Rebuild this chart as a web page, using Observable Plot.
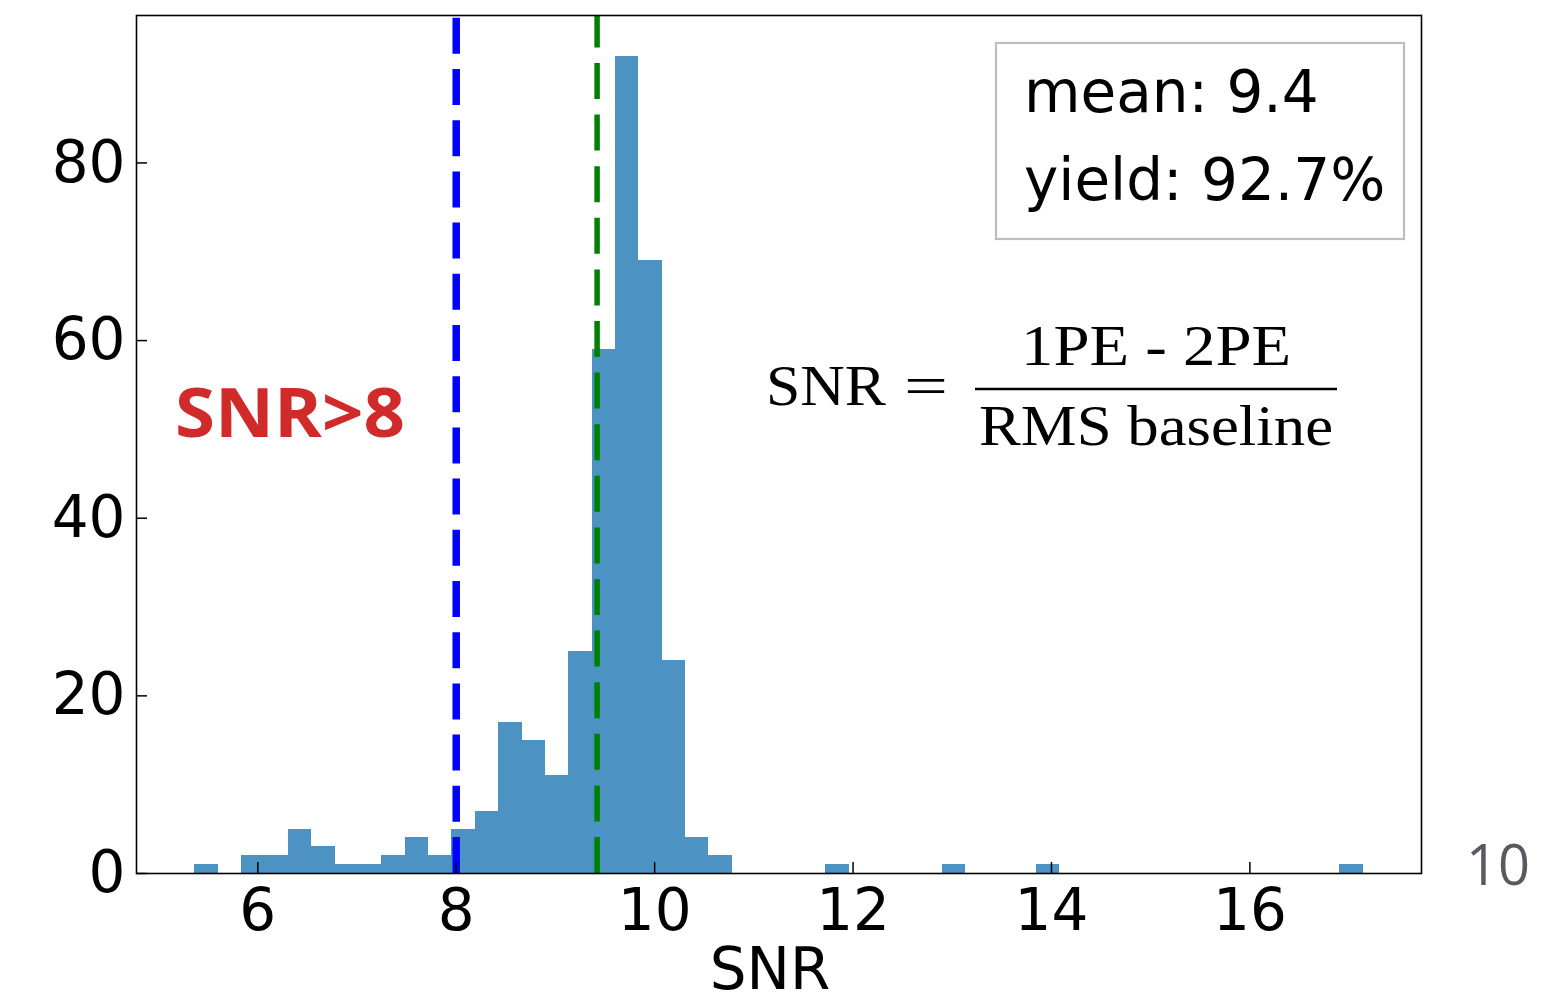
<!DOCTYPE html>
<html>
<head>
<meta charset="utf-8">
<script src="https://cdn.jsdelivr.net/npm/d3@7"></script>
<script src="https://cdn.jsdelivr.net/npm/@observablehq/plot@0.6"></script>
<style>
html, body { margin: 0; padding: 0; background: #fff; overflow: hidden; }
#chart svg { display: block; }
</style>
</head>
<body>
<div id="chart"></div>
<script>
// ---- data ----
const binStart = 5.366;          // left edge of first histogram bin
const binWidth = 0.2355;         // width of each bin (50 bins)
const counts = [1,0,2,2,5,3,1,1,2,4,2,5,7,17,15,11,25,59,92,69,24,4,2,0,0,0,0,1,0,0,0,0,1,0,0,0,1,0,0,0,0,0,0,0,0,0,0,0,0,1];
const xTicks = [6, 8, 10, 12, 14, 16];
const yTicks = [0, 20, 40, 60, 80];
const threshold = 8;
const meanSNR = 9.42;
const statsLines = ["mean: 9.4", "yield: 92.7%"];
const xLabel = "SNR";
const cutLabel = "SNR>8";
const formulaLeft = "SNR";
const formulaEq = "=";
const formulaNum = "1PE - 2PE";
const formulaDen = "RMS baseline";
const pageNumber = "10";

// ---- table for the library ----
const bins = counts.map((c, i) => ({x1: binStart + i * binWidth, x2: binStart + (i + 1) * binWidth, count: c}));
const xmin = binStart, xmax = binStart + counts.length * binWidth;
const pad = 0.05 * (xmax - xmin);
const yTop = d3.max(counts) * 1.05;

function annotations(index, scales, values, dims) {
  const g = d3.create("svg:g").attr("text-anchor", "start");
  // stats box
  g.append("rect").attr("x", 996).attr("y", 43).attr("width", 408).attr("height", 196)
    .attr("fill", "#fff").attr("stroke", "#bdbdbd").attr("stroke-width", 2.2);
  g.selectAll("text.stat").data(statsLines).join("text").attr("class", "stat")
    .attr("x", 1024).attr("y", (d, i) => 112 + i * 88).attr("text-anchor", "start")
    .attr("font-family", "DejaVu Sans").attr("font-size", 58).attr("fill", "#000")
    .text(d => d);
  // formula
  const serif = "'Liberation Serif', serif";
  g.append("text").attr("x", 766).attr("y", 405).attr("text-anchor", "start").attr("font-family", serif).attr("font-size", 58)
    .attr("textLength", 120).attr("lengthAdjust", "spacingAndGlyphs").attr("fill", "#000").text(formulaLeft);
  g.append("text").attr("x", 904).attr("y", 405).attr("text-anchor", "start").attr("font-family", serif).attr("font-size", 58)
    .attr("textLength", 44).attr("lengthAdjust", "spacingAndGlyphs").attr("fill", "#000").text(formulaEq);
  g.append("line").attr("x1", 975).attr("x2", 1337).attr("y1", 389).attr("y2", 389)
    .attr("stroke", "#000").attr("stroke-width", 2.5);
  g.append("text").attr("x", 1156).attr("y", 365).attr("text-anchor", "middle").attr("font-family", serif)
    .attr("font-size", 58).attr("textLength", 270).attr("lengthAdjust", "spacingAndGlyphs").attr("fill", "#000").text(formulaNum);
  g.append("text").attr("x", 1156).attr("y", 445).attr("text-anchor", "middle").attr("font-family", serif)
    .attr("font-size", 58).attr("textLength", 354).attr("lengthAdjust", "spacingAndGlyphs").attr("fill", "#000").text(formulaDen);
  // red cut label
  g.append("text").attr("x", 175).attr("y", 437).attr("text-anchor", "start").attr("font-family", "'Open Sans', sans-serif")
    .attr("font-weight", "bold").attr("font-size", 68).attr("textLength", 230).attr("lengthAdjust", "spacingAndGlyphs")
    .attr("fill", "#d12a2a").text(cutLabel);
  // x axis label
  g.append("text").attr("x", 770).attr("y", 989).attr("text-anchor", "middle")
    .attr("font-family", "DejaVu Sans").attr("font-size", 58).attr("fill", "#000").text(xLabel);
  // page number
  g.append("text").attr("x", 1466).attr("y", 885).attr("text-anchor", "start").attr("font-family", "'Open Sans', sans-serif")
    .attr("font-size", 56).attr("fill", "#575b61").text(pageNumber);
  return g.node();
}

const chart = Plot.plot({
  width: 1562,
  height: 1003,
  marginLeft: 136,
  marginRight: 141,
  marginTop: 15,
  marginBottom: 130,
  style: {fontFamily: "DejaVu Sans", fontSize: "58px", background: "#fff", color: "#000", overflow: "visible"},
  x: {domain: [xmin - pad, xmax + pad]},
  y: {domain: [0, yTop]},
  marks: [
    Plot.rectY(bins, {x1: "x1", x2: "x2", y1: 0, y2: "count", fill: "#4c92c3", shapeRendering: "crispEdges"}),
    Plot.ruleX([threshold], {x: d => d, y1: 0, y2: yTop, stroke: "#0000ff", strokeWidth: 7.5, strokeDasharray: "36,15.2"}),
    Plot.ruleX([meanSNR], {x: d => d, y1: 0, y2: yTop, stroke: "#008000", strokeWidth: 5.5, strokeDasharray: "36,15.6"}),
    Plot.axisX(xTicks, {anchor: "bottom", tickSize: -11, tickPadding: 26, strokeWidth: 1.5, fontSize: 58, label: null}),
    Plot.axisY(yTicks, {anchor: "left", tickSize: -11, tickPadding: 22, strokeWidth: 1.5, fontSize: 58, label: null}),
    Plot.frame({stroke: "#000", strokeWidth: 1.6}),
    annotations
  ]
});
document.getElementById("chart").appendChild(chart);
</script>
</body>
</html>
